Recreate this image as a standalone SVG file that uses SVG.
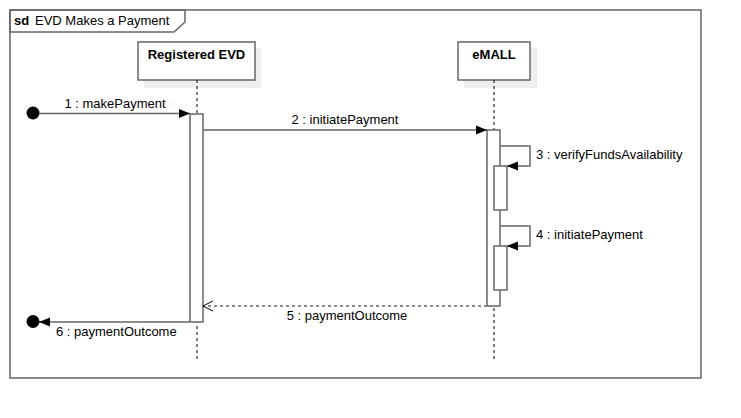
<svg xmlns="http://www.w3.org/2000/svg" width="741" height="418" viewBox="0 0 741 418">
<defs>
<marker id="filled" markerWidth="14" markerHeight="10" refX="11" refY="5" orient="auto" markerUnits="userSpaceOnUse">
<path d="M0,0.5 L11,5 L0,9.5 Z" fill="#000"/>
</marker>
<marker id="open" markerWidth="14" markerHeight="12" refX="11" refY="6" orient="auto" markerUnits="userSpaceOnUse">
<path d="M1,1 L11,6 L1,11" fill="none" stroke="#000" stroke-width="1"/>
</marker>
</defs>
<style>
text{font-family:"Liberation Sans",Arial,sans-serif;font-size:13px;fill:#000}
.b{font-weight:bold}
.frame{fill:none;stroke:#666;stroke-width:1.5}
.box{fill:#fff;stroke:#666;stroke-width:1.5}
.shadow{fill:#eee}
.life{stroke:#000;stroke-width:1;stroke-dasharray:3,3;fill:none}
.act{fill:#fff;stroke:#666;stroke-width:1.5}
.msg{fill:none;stroke:#666;stroke-width:1.5}
.ret{fill:none;stroke:#666;stroke-width:1.5;stroke-dasharray:3,3}
</style>
<rect width="741" height="418" fill="#fff"/>
<g id="frame">
<rect class="frame" x="10" y="10" width="691" height="368"/>
<path class="frame" d="M10,10 H185 V22 L174,32 H10 Z" fill="#fff"/>
<text x="14" y="25" class="b">sd</text>
<text x="35" y="25">EVD Makes a Payment</text>
</g>
<g id="registered-evd">
<rect class="shadow" x="144" y="48" width="117" height="40"/>
<rect class="box" x="138" y="42" width="117" height="38"/>
<text x="196.5" y="59" class="b" text-anchor="middle">Registered EVD</text>
<line class="life" x1="197" y1="80" x2="197" y2="360"/>
<rect class="act" x="190" y="114" width="13" height="208"/>
</g>
<g id="emall">
<rect class="shadow" x="464" y="48" width="73" height="40"/>
<rect class="box" x="458" y="42" width="72" height="38"/>
<text x="494" y="59" class="b" text-anchor="middle">eMALL</text>
<line class="life" x1="494" y1="80" x2="494" y2="360"/>
<rect class="act" x="487" y="130" width="13" height="176"/>
<rect class="act" x="494" y="166" width="13" height="44"/>
<rect class="act" x="494" y="246" width="13" height="44"/>
</g>
<g id="connectors">
<circle cx="33" cy="113" r="6.5" fill="#000"/>
<line class="msg" x1="39" y1="113.5" x2="190" y2="113.5" marker-end="url(#filled)"/>
<text x="115" y="108" text-anchor="middle">1 : makePayment</text>
<line class="msg" x1="203" y1="130" x2="487" y2="130" marker-end="url(#filled)"/>
<text x="345" y="124" text-anchor="middle">2 : initiatePayment</text>
<path class="msg" d="M500,146 H530 V166 H507" marker-end="url(#filled)"/>
<text x="536" y="159">3 : verifyFundsAvailability</text>
<path class="msg" d="M500,226 H530 V246 H507" marker-end="url(#filled)"/>
<text x="536" y="239">4 : initiatePayment</text>
<line class="ret" x1="487" y1="306" x2="203" y2="306" marker-end="url(#open)"/>
<text x="347" y="320" text-anchor="middle">5 : paymentOutcome</text>
<line class="msg" x1="190" y1="322" x2="39" y2="322" marker-end="url(#filled)"/>
<circle cx="33" cy="321.5" r="6.5" fill="#000"/>
<text x="56" y="336">6 : paymentOutcome</text>
</g>
</svg>
